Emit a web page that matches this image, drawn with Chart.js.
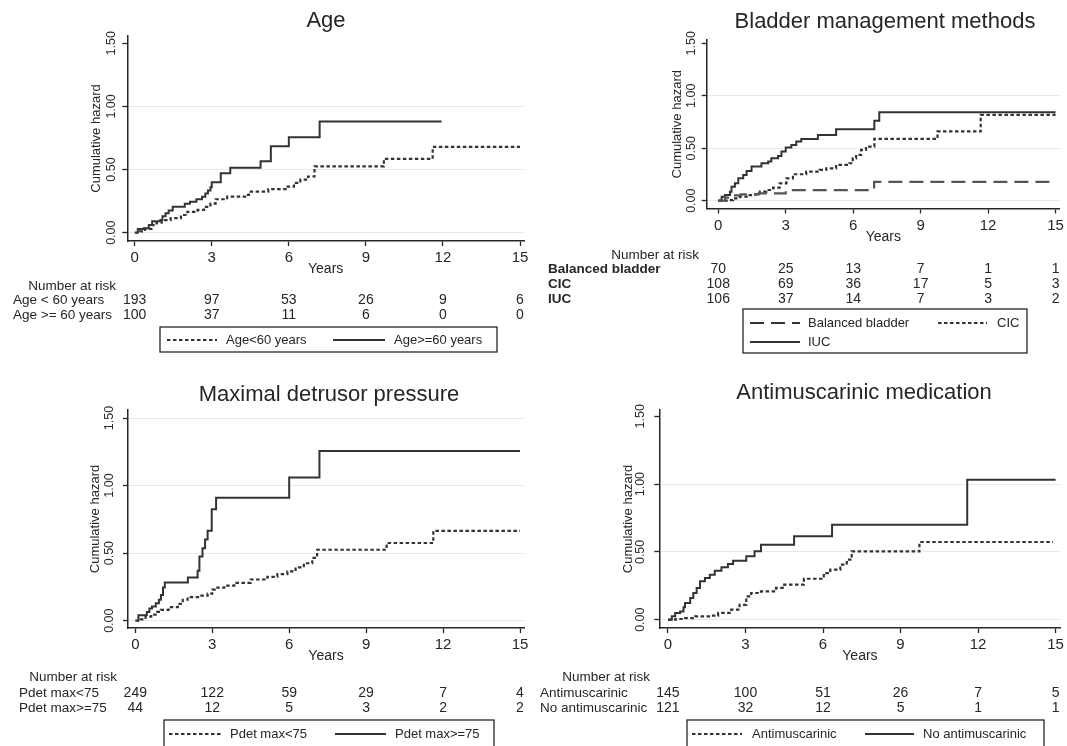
<!DOCTYPE html>
<html><head><meta charset="utf-8">
<script src="https://cdn.jsdelivr.net/npm/chart.js@4.4.1/dist/chart.umd.min.js"></script>
<style>
html,body{margin:0;padding:0;background:#fff;}
body{width:1067px;height:746px;overflow:hidden;position:relative;}
canvas{position:absolute;}
</style></head>
<body>
<script>
// ---------- tick labels ----------
const YEAR_TICKS = [0, 3, 6, 9, 12, 15];
const HAZARD_TICKS = [0, 0.5, 1, 1.5];

// ---------- Age ----------
const ageUnder60 = [[0,0],[0.2,0.01],[0.4,0.03],[0.65,0.06],[0.85,0.08],[1.05,0.10],[1.4,0.115],[1.8,0.14],[2.05,0.165],[2.45,0.18],[2.7,0.205],[2.95,0.23],[3.15,0.265],[3.6,0.285],[4.3,0.30],[4.45,0.325],[5.2,0.345],[5.95,0.365],[6.2,0.395],[6.45,0.42],[6.75,0.445],[7.0,0.525],[9.7,0.585],[11.6,0.68],[15,0.68]];
const ageOver60 = [[0.1,0],[0.12,0.03],[0.35,0.035],[0.55,0.06],[0.68,0.09],[1.0,0.10],[1.08,0.13],[1.2,0.155],[1.32,0.175],[1.48,0.205],[1.95,0.23],[2.15,0.245],[2.4,0.265],[2.62,0.285],[2.75,0.31],[2.85,0.335],[2.95,0.36],[3.0,0.40],[3.35,0.47],[3.72,0.515],[4.9,0.565],[5.3,0.685],[6.0,0.755],[7.2,0.88],[11.95,0.88]];
const riskAgeUnder60 = [193, 97, 53, 26, 9, 6];
const riskAgeOver60 = [100, 37, 11, 6, 0, 0];

// ---------- Bladder management ----------
const bladderBalanced = [[0,0],[0.3,0.03],[0.5,0.05],[1.0,0.06],[1.8,0.07],[3.0,0.10],[6.93,0.18],[15,0.18]];
const bladderCIC = [[0,0],[0.45,0.005],[0.66,0.022],[0.96,0.038],[1.26,0.054],[1.55,0.06],[1.85,0.086],[2.14,0.102],[2.44,0.124],[2.73,0.166],[3.03,0.213],[3.32,0.252],[3.91,0.277],[4.51,0.293],[4.8,0.309],[5.24,0.341],[5.83,0.357],[5.98,0.404],[6.13,0.436],[6.35,0.484],[6.57,0.516],[6.94,0.589],[9.75,0.66],[11.67,0.818],[15,0.818]];
const bladderIUC = [[0,0],[0.15,0.038],[0.3,0.054],[0.52,0.086],[0.59,0.134],[0.74,0.166],[0.89,0.213],[1.11,0.245],[1.26,0.283],[1.48,0.325],[1.92,0.357],[2.22,0.373],[2.36,0.404],[2.66,0.427],[2.81,0.468],[3.0,0.506],[3.25,0.532],[3.47,0.564],[3.69,0.589],[4.43,0.627],[5.24,0.682],[6.94,0.761],[7.16,0.844],[15,0.844]];
const riskBalanced = [70, 25, 13, 7, 1, 1];
const riskCIC = [108, 69, 36, 17, 5, 3];
const riskIUC = [106, 37, 14, 7, 3, 2];

// ---------- Maximal detrusor pressure ----------
const pdetUnder75 = [[0,0],[0.2,0.01],[0.4,0.03],[0.62,0.045],[0.85,0.065],[1.0,0.08],[1.3,0.1],[1.66,0.125],[1.85,0.155],[2.04,0.175],[2.5,0.185],[2.82,0.2],[3.0,0.23],[3.2,0.245],[3.47,0.26],[3.86,0.28],[4.5,0.305],[5.15,0.325],[5.54,0.345],[5.93,0.365],[6.25,0.395],[6.57,0.425],[6.9,0.465],[7.09,0.525],[9.8,0.575],[11.62,0.665],[15,0.665]];
const pdetOver75 = [[0.1,0],[0.12,0.04],[0.45,0.065],[0.55,0.09],[0.65,0.105],[0.8,0.13],[0.92,0.155],[1.0,0.19],[1.08,0.245],[1.15,0.283],[2.05,0.32],[2.43,0.37],[2.5,0.475],[2.62,0.537],[2.72,0.60],[2.82,0.665],[2.98,0.825],[3.15,0.91],[6.0,1.06],[7.18,1.255],[15,1.255]];
const riskPdetUnder75 = [249, 122, 59, 29, 7, 4];
const riskPdetOver75 = [44, 12, 5, 3, 2, 2];

// ---------- Antimuscarinic medication ----------
const antimuscarinic = [[0,0],[0.3,0.005],[0.66,0.012],[1.05,0.025],[1.69,0.03],[1.94,0.05],[2.45,0.074],[2.77,0.11],[3.03,0.172],[3.22,0.197],[3.6,0.209],[4.18,0.234],[4.5,0.258],[5.26,0.302],[6.03,0.344],[6.28,0.369],[6.67,0.406],[6.92,0.443],[7.11,0.504],[9.73,0.573],[14.9,0.573]];
const noAntimuscarinic = [[0,0],[0.15,0.025],[0.28,0.05],[0.47,0.061],[0.6,0.091],[0.66,0.123],[0.86,0.16],[0.98,0.197],[1.11,0.234],[1.24,0.283],[1.43,0.307],[1.62,0.332],[1.81,0.361],[2.07,0.386],[2.32,0.41],[2.52,0.435],[3.03,0.467],[3.35,0.504],[3.6,0.553],[4.88,0.615],[6.35,0.70],[11.58,1.033],[15,1.033]];
const riskAntimuscarinic = [145, 100, 51, 26, 7, 5];
const riskNoAntimuscarinic = [121, 32, 12, 5, 1, 1];

// ---------- styling ----------
const INK = '#262626';
const LINE = '#333333';
const FONT = '"Liberation Sans", Arial, sans-serif';
const DOT = [3.5, 2.5];
const DASH = [14, 7];
const SOLID = [];

const panels = [
  { id:1, title:'Age', left:0, top:0, w:540, h:370,
    L:127.3, R:524, T:36, B:241, x0:134.7, x15:520, y0:232.7, y15:43.3, grid15:false,
    titleX:326, titleY:21, yLabX:112, yTitleX:96.5,
    narX:116, narY:286, rowX:13, rowY:[300,315], bold:false,
    series:[{data:ageUnder60, dash:DOT, color:LINE},{data:ageOver60, dash:SOLID, color:LINE}],
    risk:[{label:'Age < 60 years', values:riskAgeUnder60},{label:'Age >= 60 years', values:riskAgeOver60}],
    box:[160,327,497,352],
    legend:[{x1:167,x2:217,tx:226,y:340,dash:DOT,label:'Age<60 years'},{x1:333,x2:385,tx:394,y:340,dash:SOLID,label:'Age>=60 years'}] },
  { id:2, title:'Bladder management methods', left:540, top:0, w:527, h:370,
    L:166.7, R:521, T:40, B:208.5, x0:178.3, x15:516.7, y0:200.7, y15:43.3, grid15:false,
    titleX:345, titleY:22, yLabX:152, yTitleX:137,
    narX:159, narY:255, rowX:8, rowY:[269,284,299], bold:true,
    series:[{data:bladderBalanced, dash:DASH, color:'#555'},{data:bladderCIC, dash:DOT, color:LINE},{data:bladderIUC, dash:SOLID, color:LINE}],
    risk:[{label:'Balanced bladder', values:riskBalanced},{label:'CIC', values:riskCIC},{label:'IUC', values:riskIUC}],
    box:[203,309,487,353],
    legend:[{x1:210,x2:260,tx:268,y:323,dash:DASH,label:'Balanced bladder'},{x1:398,x2:447,tx:457,y:323,dash:DOT,label:'CIC'},{x1:210,x2:260,tx:268,y:342,dash:SOLID,label:'IUC'}] },
  { id:3, title:'Maximal detrusor pressure', left:0, top:370, w:540, h:376,
    L:128, R:524, T:40, B:258, x0:135.3, x15:520, y0:250.7, y15:48, grid15:true,
    titleX:329, titleY:25, yLabX:110, yTitleX:95,
    narX:117, narY:307, rowX:19, rowY:[323,338], bold:false,
    series:[{data:pdetUnder75, dash:DOT, color:LINE},{data:pdetOver75, dash:SOLID, color:LINE}],
    risk:[{label:'Pdet max<75', values:riskPdetUnder75},{label:'Pdet max>=75', values:riskPdetOver75}],
    box:[164,350,494,390],
    legend:[{x1:169,x2:221,tx:230,y:364,dash:DOT,label:'Pdet max<75'},{x1:335,x2:386,tx:395,y:364,dash:SOLID,label:'Pdet max>=75'}] },
  { id:4, title:'Antimuscarinic medication', left:540, top:370, w:527, h:376,
    L:119.3, R:522, T:40, B:258, x0:128, x15:517, y0:249.7, y15:46.3, grid15:false,
    titleX:324, titleY:23, yLabX:101, yTitleX:88,
    narX:110, narY:307, rowX:0, rowY:[323,338], bold:false,
    series:[{data:antimuscarinic, dash:DOT, color:LINE},{data:noAntimuscarinic, dash:SOLID, color:LINE}],
    risk:[{label:'Antimuscarinic', values:riskAntimuscarinic},{label:'No antimuscarinic', values:riskNoAntimuscarinic}],
    box:[147,350,504,390],
    legend:[{x1:152,x2:202,tx:212,y:364,dash:DOT,label:'Antimuscarinic'},{x1:325,x2:374,tx:383,y:364,dash:SOLID,label:'No antimuscarinic'}] }
];

const XH = 37; // height reserved for x tick labels + "Years"

function decor(p) {
  return {
    id: 'decor' + p.id,
    afterDraw(chart) {
      const ctx = chart.ctx, xs = chart.scales.x, ys = chart.scales.y, ca = chart.chartArea;
      ctx.save();
      ctx.fillStyle = INK;
      ctx.textBaseline = 'middle';
      // title
      ctx.font = '22px ' + FONT; ctx.textAlign = 'center';
      ctx.fillText(p.title, p.titleX, p.titleY);
      // y tick labels (rotated)
      ctx.font = '12.5px ' + FONT;
      HAZARD_TICKS.forEach(v => {
        const y = ys.getPixelForValue(v);
        ctx.save(); ctx.translate(p.yLabX, y); ctx.rotate(-Math.PI / 2);
        ctx.fillText(v.toFixed(2), 0, 0); ctx.restore();
      });
      // y title
      ctx.font = '13px ' + FONT;
      ctx.save(); ctx.translate(p.yTitleX, (ca.top + ca.bottom) / 2); ctx.rotate(-Math.PI / 2);
      ctx.fillText('Cumulative hazard', 0, 0); ctx.restore();
      // number at risk table
      ctx.font = '13.5px ' + FONT; ctx.textAlign = 'right';
      ctx.fillText('Number at risk', p.narX, p.narY);
      p.risk.forEach((row, i) => {
        ctx.font = (p.bold ? 'bold ' : '') + '13.5px ' + FONT; ctx.textAlign = 'left';
        ctx.fillText(row.label, p.rowX, p.rowY[i]);
        ctx.font = '14px ' + FONT; ctx.textAlign = 'center';
        row.values.forEach((n, j) => ctx.fillText(String(n), xs.getPixelForValue(YEAR_TICKS[j]), p.rowY[i]));
      });
      // legend box
      const [bx1, by1, bx2, by2] = p.box;
      ctx.strokeStyle = INK; ctx.lineWidth = 1.3;
      ctx.strokeRect(bx1, by1, bx2 - bx1, by2 - by1);
      p.legend.forEach(it => {
        ctx.beginPath(); ctx.setLineDash(it.dash); ctx.lineWidth = 2; ctx.strokeStyle = LINE;
        ctx.moveTo(it.x1, it.y); ctx.lineTo(it.x2, it.y); ctx.stroke();
        ctx.setLineDash([]);
        ctx.font = '13px ' + FONT; ctx.textAlign = 'left'; ctx.fillStyle = INK;
        ctx.fillText(it.label, it.tx, it.y);
      });
      ctx.restore();
    }
  };
}

function makePanel(p) {
  const canvas = document.createElement('canvas');
  canvas.width = p.w; canvas.height = p.h;
  canvas.style.left = p.left + 'px'; canvas.style.top = p.top + 'px';
  canvas.style.width = p.w + 'px'; canvas.style.height = p.h + 'px';
  document.body.appendChild(canvas);
  const pxX = (p.x15 - p.x0) / 15;
  const xmin = -(p.x0 - p.L) / pxX, xmax = 15 + (p.R - p.x15) / pxX;
  const pxY = (p.y0 - p.y15) / 1.5;
  const ymin = -(p.B - p.y0) / pxY, ymax = (p.y0 - p.T) / pxY;
  new Chart(canvas, {
    type: 'line',
    data: {
      datasets: p.series.map(s => ({
        data: s.data.map(([x, y]) => ({x, y})),
        stepped: true, borderColor: s.color, borderWidth: s.dash.length ? 2.2 : 2, borderDash: s.dash,
        pointRadius: 0, fill: false, tension: 0, borderCapStyle: 'butt', borderJoinStyle: 'miter'
      }))
    },
    options: {
      responsive: false, animation: false, events: [], devicePixelRatio: 1,
      layout: { padding: { left: 0, top: p.T, right: p.w - p.R, bottom: p.h - p.B - XH } },
      plugins: { legend: { display: false }, tooltip: { enabled: false }, title: { display: false } },
      scales: {
        x: {
          type: 'linear', min: xmin, max: xmax,
          afterBuildTicks: s => { s.ticks = YEAR_TICKS.map(v => ({ value: v })); },
          afterFit: s => { s.height = XH; },
          grid: { drawOnChartArea: false, tickLength: 5, tickColor: INK, tickWidth: 1.3 },
          border: { color: INK, width: 1.5 },
          ticks: { padding: 3, color: INK, font: { family: FONT, size: 15 }, maxRotation: 0, minRotation: 0, autoSkip: false, callback: v => String(v) },
          title: { display: true, text: 'Years', color: INK, font: { family: FONT, size: 14 }, padding: 0 }
        },
        y: {
          type: 'linear', min: ymin, max: ymax,
          afterBuildTicks: s => { s.ticks = HAZARD_TICKS.map(v => ({ value: v })); },
          afterFit: s => { s.width = p.L; },
          grid: { color: c => (c.tick && c.tick.value === 1.5 && !p.grid15) ? 'rgba(0,0,0,0)' : '#e9e9e9',
                  lineWidth: 1, tickLength: 5, tickColor: INK, tickWidth: 1.3 },
          border: { color: INK, width: 1.5 },
          ticks: { display: false }
        }
      }
    },
    plugins: [decor(p)]
  });
}

panels.forEach(makePanel);
</script>
</body></html>
